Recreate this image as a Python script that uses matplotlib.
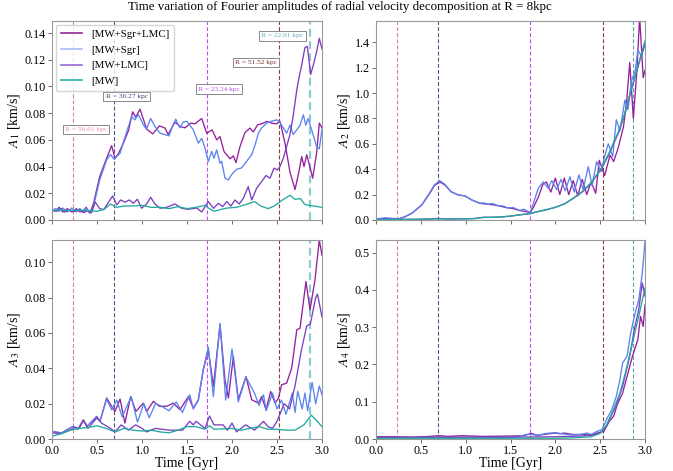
import matplotlib
matplotlib.use("Agg")
import matplotlib.pyplot as plt
from matplotlib.lines import Line2D

plt.rcParams['font.family'] = ['Liberation Serif', 'DejaVu Serif']
plt.rcParams['mathtext.fontset'] = 'stix'
plt.rcParams['font.size'] = 8.7

# ---------------- data (time [Gyr], amplitude [km/s]) ----------------
series_labels = ['[MW+Sgr+LMC]', '[MW+Sgr]', '[MW+LMC]', '[MW]']

a1_sgr_lmc = [(0.0,0.0075),(0.04,0.007),(0.08,0.0095),(0.12,0.006),(0.17,0.0085),(0.22,0.006),(0.27,0.0085),(0.31,0.006),(0.35,0.007),(0.38,0.0095),(0.42,0.005),(0.46,0.012),(0.53,0.0325),(0.6,0.045),(0.663,0.0557),(0.7,0.046),(0.74,0.05),(0.793,0.0575),(0.85,0.067),(0.896,0.081),(0.93,0.077),(0.978,0.083),(1.052,0.068),(1.119,0.0645),(1.193,0.0705),(1.256,0.0688),(1.29,0.064),(1.367,0.0733),(1.422,0.07),(1.478,0.069),(1.541,0.0725),(1.589,0.072),(1.663,0.076),(1.719,0.065),(1.78,0.0675),(1.83,0.06),(1.867,0.0625),(1.911,0.0513),(1.978,0.0458),(2.015,0.048),(2.044,0.043),(2.089,0.055),(2.144,0.0655),(2.2,0.0688),(2.237,0.066),(2.285,0.0713),(2.33,0.072),(2.385,0.0738),(2.44,0.0725),(2.496,0.072),(2.533,0.0738),(2.589,0.0575),(2.644,0.036),(2.7,0.0228),(2.74,0.035),(2.774,0.0475),(2.8,0.04),(2.83,0.0488),(2.865,0.04),(2.896,0.0313),(2.94,0.05),(2.97,0.0725),(3.0,0.069)]
a1_sgr = [(0.0,0.0075),(0.04,0.0085),(0.08,0.0065),(0.12,0.009),(0.17,0.006),(0.22,0.009),(0.27,0.006),(0.31,0.0085),(0.35,0.006),(0.38,0.009),(0.42,0.0055),(0.46,0.01),(0.53,0.03),(0.607,0.045),(0.65,0.049),(0.69,0.0455),(0.756,0.05),(0.82,0.064),(0.885,0.0775),(0.92,0.075),(0.96,0.079),(1.015,0.0713),(1.05,0.068),(1.096,0.076),(1.144,0.07),(1.2,0.065),(1.25,0.064),(1.3,0.063),(1.35,0.072),(1.375,0.0755),(1.42,0.069),(1.46,0.0735),(1.5,0.0738),(1.57,0.0675),(1.626,0.0575),(1.663,0.0612),(1.7,0.0538),(1.737,0.0438),(1.774,0.0513),(1.8,0.0463),(1.83,0.0525),(1.867,0.0425),(1.885,0.044),(1.922,0.0313),(1.96,0.030),(1.996,0.034),(2.052,0.038),(2.107,0.039),(2.163,0.044),(2.219,0.049),(2.256,0.056),(2.293,0.065),(2.33,0.069),(2.385,0.0725),(2.44,0.074),(2.496,0.075),(2.533,0.073),(2.57,0.069),(2.607,0.065),(2.644,0.071),(2.68,0.064),(2.72,0.0675),(2.756,0.071),(2.793,0.0788),(2.82,0.071),(2.845,0.076),(2.885,0.0675),(2.94,0.055),(2.97,0.0533),(3.0,0.068)]
a1_lmc = [(0.0,0.007),(0.05,0.0065),(0.1,0.0085),(0.14,0.006),(0.2,0.0075),(0.25,0.0065),(0.3,0.008),(0.35,0.0055),(0.4,0.007),(0.44,0.0055),(0.48,0.0135),(0.53,0.0085),(0.574,0.0078),(0.674,0.018),(0.72,0.0113),(0.763,0.015),(0.81,0.0133),(0.859,0.015),(0.904,0.0125),(0.948,0.0155),(0.996,0.0088),(1.052,0.012),(1.096,0.017),(1.144,0.012),(1.2,0.0088),(1.274,0.0095),(1.367,0.012),(1.44,0.0088),(1.515,0.008),(1.607,0.009),(1.663,0.006),(1.737,0.0138),(1.793,0.0088),(1.85,0.0125),(1.896,0.01),(1.941,0.0138),(1.989,0.0105),(2.033,0.015),(2.081,0.012),(2.126,0.0163),(2.18,0.025),(2.219,0.015),(2.274,0.0238),(2.33,0.0288),(2.378,0.0333),(2.422,0.0313),(2.467,0.0388),(2.504,0.0375),(2.533,0.04),(2.57,0.0463),(2.607,0.055),(2.644,0.064),(2.68,0.078),(2.72,0.0975),(2.74,0.105),(2.774,0.116),(2.81,0.129),(2.837,0.130),(2.874,0.109),(2.9,0.115),(2.94,0.126),(2.97,0.136),(3.0,0.128)]
a1_mw = [(0.0,0.007),(0.1,0.0075),(0.2,0.007),(0.3,0.0075),(0.4,0.007),(0.5,0.0065),(0.58,0.008),(0.65,0.012),(0.72,0.0095),(0.8,0.0105),(0.9,0.0105),(1.0,0.011),(1.1,0.0095),(1.2,0.0095),(1.3,0.0085),(1.4,0.01),(1.5,0.0085),(1.6,0.0095),(1.7,0.011),(1.75,0.0085),(1.8,0.0065),(1.88,0.008),(1.95,0.009),(2.05,0.0095),(2.15,0.0115),(2.25,0.0138),(2.32,0.0105),(2.4,0.0085),(2.47,0.0105),(2.55,0.0145),(2.644,0.0185),(2.7,0.0155),(2.76,0.016),(2.81,0.0115),(2.9,0.0105),(3.0,0.0095)]

a2_sgr_lmc = [(0.0,0.005),(0.1,0.012),(0.2,0.01),(0.25,0.008),(0.32,0.025),(0.4,0.053),(0.51,0.118),(0.6,0.21),(0.65,0.27),(0.71,0.30),(0.77,0.275),(0.836,0.223),(0.918,0.197),(0.99,0.19),(1.07,0.157),(1.16,0.131),(1.25,0.124),(1.3,0.12),(1.36,0.113),(1.45,0.098),(1.53,0.09),(1.6,0.075),(1.68,0.065),(1.72,0.058),(1.76,0.105),(1.81,0.18),(1.86,0.28),(1.9,0.30),(1.95,0.22),(2.0,0.33),(2.05,0.2),(2.1,0.33),(2.15,0.2),(2.2,0.31),(2.25,0.19),(2.3,0.32),(2.35,0.2),(2.4,0.30),(2.45,0.21),(2.49,0.47),(2.55,0.35),(2.61,0.51),(2.65,0.46),(2.70,0.565),(2.76,0.735),(2.795,0.93),(2.83,1.24),(2.87,0.80),(2.91,1.18),(2.94,1.6),(2.98,1.12),(3.0,1.18)]
a2_sgr = [(0.0,0.008),(0.1,0.017),(0.2,0.012),(0.25,0.008),(0.32,0.025),(0.4,0.053),(0.51,0.118),(0.6,0.215),(0.65,0.275),(0.71,0.31),(0.77,0.28),(0.836,0.223),(0.918,0.197),(0.99,0.19),(1.07,0.157),(1.16,0.131),(1.2,0.135),(1.25,0.124),(1.3,0.13),(1.36,0.113),(1.42,0.11),(1.47,0.095),(1.53,0.098),(1.6,0.075),(1.65,0.085),(1.72,0.058),(1.773,0.17),(1.81,0.25),(1.865,0.30),(1.92,0.25),(1.96,0.31),(2.015,0.24),(2.063,0.32),(2.11,0.23),(2.163,0.34),(2.21,0.22),(2.263,0.355),(2.31,0.24),(2.367,0.42),(2.41,0.27),(2.46,0.46),(2.51,0.38),(2.553,0.51),(2.59,0.60),(2.64,0.50),(2.68,0.79),(2.72,0.70),(2.776,0.945),(2.81,0.87),(2.85,1.10),(2.89,1.17),(2.92,1.34),(2.96,1.29),(3.0,1.40)]
a2_lmc = [(0.0,0.003),(0.2,0.005),(0.4,0.005),(0.6,0.008),(0.69,0.012),(0.8,0.008),(1.0,0.01),(1.1,0.012),(1.2,0.022),(1.3,0.022),(1.4,0.024),(1.5,0.03),(1.6,0.04),(1.72,0.05),(1.8,0.065),(1.9,0.08),(2.0,0.10),(2.1,0.125),(2.2,0.17),(2.3,0.22),(2.4,0.29),(2.52,0.41),(2.6,0.52),(2.7,0.68),(2.77,0.82),(2.83,0.98),(2.87,1.08),(2.92,1.2),(2.96,1.3),(3.0,1.38)]
a2_mw = [(0.0,0.002),(0.2,0.004),(0.4,0.005),(0.6,0.007),(0.69,0.009),(0.8,0.008),(1.0,0.009),(1.1,0.011),(1.2,0.02),(1.3,0.021),(1.4,0.025),(1.5,0.031),(1.6,0.041),(1.72,0.052),(1.8,0.066),(1.9,0.082),(2.0,0.10),(2.1,0.127),(2.2,0.172),(2.3,0.225),(2.4,0.295),(2.52,0.415),(2.6,0.53),(2.7,0.69),(2.77,0.83),(2.83,0.99),(2.87,1.09),(2.92,1.21),(2.96,1.31),(3.0,1.41)]

a3_sgr_lmc = [(0.0,0.0043),(0.107,0.0034),(0.18,0.0056),(0.237,0.0072),(0.29,0.0056),(0.348,0.0109),(0.39,0.0072),(0.496,0.0128),(0.533,0.01),(0.607,0.0232),(0.663,0.0185),(0.7,0.0156),(0.756,0.0226),(0.81,0.009),(0.874,0.024),(0.933,0.0156),(1.015,0.0203),(1.052,0.0156),(1.126,0.0213),(1.193,0.0185),(1.274,0.0185),(1.348,0.0203),(1.422,0.0166),(1.515,0.024),(1.57,0.0175),(1.626,0.0222),(1.68,0.039),(1.737,0.0505),(1.793,0.0298),(1.867,0.0646),(1.922,0.0335),(1.96,0.0232),(2.015,0.0467),(2.07,0.0222),(2.155,0.0354),(2.219,0.0222),(2.293,0.0203),(2.33,0.024),(2.378,0.0166),(2.43,0.0269),(2.478,0.0203),(2.515,0.023),(2.552,0.0307),(2.607,0.0316),(2.663,0.0401),(2.72,0.0618),(2.756,0.0627),(2.822,0.0891),(2.867,0.0731),(2.922,0.09),(2.97,0.1126),(3.0,0.104)]
a3_sgr = [(0.0,0.0043),(0.107,0.0034),(0.18,0.0056),(0.237,0.0072),(0.29,0.0056),(0.348,0.0105),(0.39,0.0072),(0.496,0.0125),(0.533,0.01),(0.607,0.0225),(0.663,0.0165),(0.72,0.022),(0.78,0.0125),(0.88,0.024),(0.95,0.0095),(1.02,0.02),(1.08,0.012),(1.15,0.02),(1.2,0.019),(1.3,0.016),(1.38,0.021),(1.45,0.015),(1.53,0.025),(1.57,0.017),(1.626,0.022),(1.68,0.039),(1.737,0.052),(1.793,0.024),(1.867,0.0655),(1.93,0.022),(2.0,0.051),(2.07,0.021),(2.155,0.035),(2.25,0.026),(2.3,0.019),(2.35,0.025),(2.38,0.016),(2.45,0.026),(2.5,0.017),(2.55,0.022),(2.6,0.014),(2.67,0.026),(2.7,0.015),(2.73,0.027),(2.78,0.017),(2.81,0.026),(2.84,0.016),(2.89,0.032),(2.93,0.02),(2.97,0.03),(3.0,0.025)]
a3_lmc = [(0.0,0.0035),(0.1,0.003),(0.2,0.005),(0.25,0.0065),(0.3,0.006),(0.35,0.0105),(0.4,0.006),(0.5,0.012),(0.55,0.009),(0.65,0.006),(0.7,0.004),(0.77,0.008),(0.85,0.005),(0.93,0.008),(1.0,0.006),(1.05,0.004),(1.15,0.006),(1.3,0.005),(1.45,0.005),(1.53,0.01),(1.57,0.008),(1.6,0.01),(1.7,0.006),(1.75,0.013),(1.8,0.008),(1.9,0.008),(1.95,0.005),(2.0,0.009),(2.05,0.004),(2.15,0.008),(2.25,0.005),(2.35,0.01),(2.4,0.007),(2.45,0.006),(2.5,0.01),(2.58,0.02),(2.64,0.017),(2.7,0.03),(2.77,0.05),(2.83,0.064),(2.87,0.065),(2.93,0.08),(2.95,0.082),(3.0,0.069)]
a3_mw = [(0.0,0.0015),(0.1,0.003),(0.2,0.005),(0.3,0.006),(0.4,0.0065),(0.5,0.0075),(0.6,0.006),(0.7,0.004),(0.8,0.006),(0.9,0.005),(1.0,0.0045),(1.1,0.005),(1.2,0.004),(1.3,0.0035),(1.4,0.005),(1.5,0.007),(1.6,0.007),(1.7,0.0055),(1.75,0.0075),(1.8,0.0055),(2.0,0.006),(2.1,0.005),(2.2,0.006),(2.3,0.007),(2.4,0.0055),(2.5,0.0055),(2.6,0.005),(2.7,0.005),(2.8,0.008),(2.88,0.0135),(2.93,0.011),(3.0,0.007)]

a4_sgr_lmc = [(0.0,0.006),(0.2,0.006),(0.4,0.005),(0.6,0.007),(0.7,0.009),(0.8,0.007),(0.95,0.009),(1.2,0.007),(1.5,0.008),(1.65,0.009),(1.73,0.015),(1.8,0.01),(1.9,0.013),(2.0,0.016),(2.05,0.014),(2.1,0.016),(2.2,0.012),(2.3,0.012),(2.4,0.01),(2.45,0.015),(2.54,0.02),(2.6,0.047),(2.65,0.061),(2.69,0.092),(2.75,0.123),(2.8,0.168),(2.86,0.222),(2.92,0.267),(2.95,0.329),(2.98,0.302),(3.0,0.36)]
a4_sgr = [(0.0,0.003),(0.5,0.004),(1.0,0.004),(1.5,0.004),(1.6,0.008),(1.7,0.013),(1.8,0.01),(1.9,0.015),(2.0,0.017),(2.1,0.013),(2.2,0.011),(2.3,0.013),(2.35,0.016),(2.4,0.012),(2.46,0.02),(2.52,0.025),(2.57,0.052),(2.63,0.079),(2.68,0.114),(2.72,0.159),(2.75,0.204),(2.8,0.222),(2.84,0.284),(2.89,0.338),(2.93,0.374),(2.97,0.445),(3.0,0.53)]
a4_lmc = [(0.0,0.004),(0.5,0.005),(1.0,0.005),(1.5,0.005),(2.0,0.006),(2.3,0.008),(2.45,0.012),(2.52,0.02),(2.57,0.034),(2.68,0.092),(2.75,0.141),(2.83,0.222),(2.88,0.293),(2.93,0.347),(2.97,0.419),(3.0,0.383)]
a4_mw = [(0.0,0.002),(0.5,0.002),(1.0,0.002),(1.5,0.002),(2.0,0.002),(2.2,0.003),(2.4,0.006),(2.5,0.015),(2.57,0.038),(2.64,0.074),(2.72,0.123),(2.79,0.186),(2.86,0.258),(2.93,0.329),(3.0,0.405)]

panel_data = [
    [a1_sgr_lmc, a1_sgr, a1_lmc, a1_mw],
    [a2_sgr_lmc, a2_sgr, a2_lmc, a2_mw],
    [a3_sgr_lmc, a3_sgr, a3_lmc, a3_mw],
    [a4_sgr_lmc, a4_sgr, a4_lmc, a4_mw],
]
panel_ylabels = ['$A_1$ [km/s]', '$A_2$ [km/s]', '$A_3$ [km/s]', '$A_4$ [km/s]']
panel_ylims = [0.149, 1.567, 0.1126, 0.534]
panel_yticks = [
    [0.0, 0.02, 0.04, 0.06, 0.08, 0.10, 0.12, 0.14],
    [0.0, 0.2, 0.4, 0.6, 0.8, 1.0, 1.2, 1.4],
    [0.0, 0.02, 0.04, 0.06, 0.08, 0.10],
    [0.0, 0.1, 0.2, 0.3, 0.4, 0.5],
]
panel_ytick_fmt = ['{:.2f}', '{:.1f}', '{:.2f}', '{:.1f}']
x_ticks = [0.0, 0.5, 1.0, 1.5, 2.0, 2.5, 3.0]

# pericentre passages
event_times = [0.237, 0.692, 1.717, 2.527, 2.866]
event_labels = ['R = 56.61 kpc', 'R = 36.27 kpc', 'R = 23.24 kpc', 'R = 51.52 kpc', 'R = 22.91 kpc']
event_label_pos = [(0.38, 0.0677), (0.83, 0.0925), (1.856, 0.098), (2.27, 0.118), (2.56, 0.1378)]

# ---------------- styling ----------------
line_colors = ['#94209e', '#5b84f0', '#7b3fbf', '#22aaa0']
legend_colors = ['#8e2a96', '#a4bcf7', '#9a6ccc', '#2aaaa2']
event_colors = ['#df7f9a', '#4a5688', '#c04cf2', '#8a3a3a', '#5fa3a8']
event_text_colors = ['#ee8aaa', '#3d4a80', '#c04cf2', '#7a2d2d', '#5fb0b8']

fig = plt.figure(figsize=(6.73, 4.71), dpi=100)
W, H = 673.0, 471.0
boxes = [(52, 21, 322, 220), (376, 21, 645, 220), (52, 240, 322, 439), (376, 240, 645, 439)]
axes = []
for (x0, y0, x1, y1) in boxes:
    axes.append(fig.add_axes([x0 / W, 1 - y1 / H, (x1 - x0) / W, (y1 - y0) / H]))

for i, ax in enumerate(axes):
    for j, series in enumerate(panel_data[i]):
        t = [p[0] for p in series]
        v = [p[1] for p in series]
        ax.plot(t, v, color=line_colors[j], lw=0.95, label=series_labels[j])
    for k, te in enumerate(event_times):
        lw = 0.8
        col = event_colors[k]
        if k == 4 and i in (0, 2):
            lw = 1.6
            col = '#8ccad2'
        ax.axvline(te, color=col, ls=(0, (3.5, 2)), lw=lw, zorder=0)
    ax.set_xlim(0, 3.0)
    ax.set_ylim(0, panel_ylims[i])
    ax.set_xticks(x_ticks)
    ax.set_yticks(panel_yticks[i])
    ax.set_yticklabels([panel_ytick_fmt[i].format(v) for v in panel_yticks[i]])
    ax.set_ylabel(panel_ylabels[i], fontsize=10, labelpad=2)
    if i < 2:
        ax.set_xticklabels([])
    else:
        ax.set_xticklabels(['{:.1f}'.format(v) for v in x_ticks])
        ax.set_xlabel('Time [Gyr]', fontsize=10, labelpad=0)
    ax.tick_params(labelsize=8.7, length=3, width=0.6, color='#555555', pad=1.5)
    for s in ax.spines.values():
        s.set_color('#999999')
        s.set_linewidth(0.8)

ax0 = axes[0]
for k, (tx, ty) in enumerate(event_label_pos):
    ax0.text(tx, ty, event_labels[k], fontsize=5.3, color=event_text_colors[k],
             ha='center', va='center',
             bbox=dict(boxstyle='square,pad=0.3', facecolor='white', edgecolor='#888888', lw=0.7))

handles = [Line2D([], [], color=c, lw=1.2) for c in legend_colors]
ax0.legend(handles, series_labels, loc='upper left', fontsize=7.8, frameon=True,
           borderaxespad=0.35, handlelength=2.0, handletextpad=0.8,
           labelspacing=0.55, borderpad=0.45)

fig.suptitle('Time variation of Fourier amplitudes of radial velocity decomposition at R = 8kpc',
             fontsize=9.3, x=0.505, y=0.997)

fig.savefig('out.png', dpi=100)
